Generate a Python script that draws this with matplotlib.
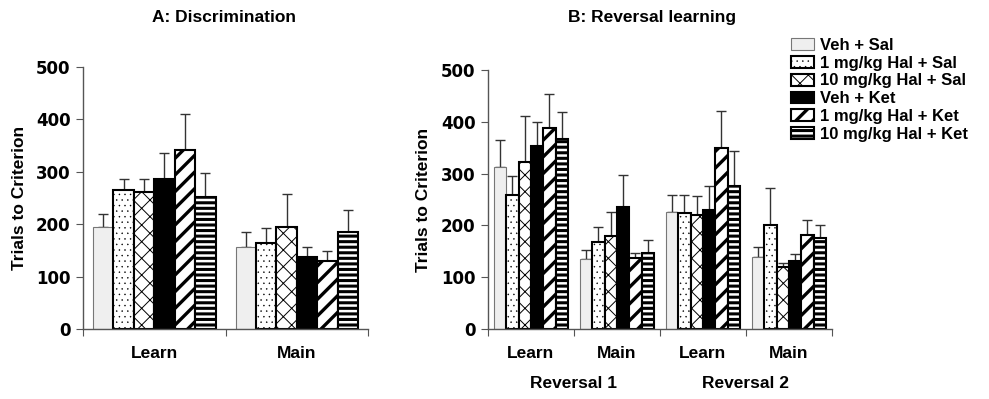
import matplotlib
matplotlib.use("Agg")
import matplotlib.pyplot as plt
import numpy as np

plt.rcParams['font.family'] = ['Liberation Sans', 'DejaVu Sans']
plt.rcParams['font.weight'] = 'bold'
plt.rcParams['font.size'] = 12.5

groups = ['Veh + Sal', '1 mg/kg Hal + Sal', '10 mg/kg Hal + Sal',
          'Veh + Ket', '1 mg/kg Hal + Ket', '10 mg/kg Hal + Ket']

# A: Discrimination
a_cats = ['Learn', 'Main']
a_mean = [[194, 156], [265, 165], [261, 194], [287, 137], [341, 130], [252, 185]]
a_top = [[219, 185], [286, 192], [287, 257], [336, 157], [411, 149], [298, 227]]

# B: Reversal learning
b_cats = ['Learn', 'Main', 'Learn', 'Main']
b_blocks = ['Reversal 1', 'Reversal 2']
b_mean = [[312, 135, 226, 139], [258, 168, 224, 201], [322, 180, 221, 120],
          [353, 236, 230, 132], [388, 138, 350, 181], [367, 147, 277, 176]]
b_top = [[364, 152, 259, 158], [296, 197, 259, 273], [411, 226, 256, 128],
         [400, 298, 276, 145], [453, 146, 421, 210], [419, 171, 344, 200]]

styles = [
    dict(color='#efefef', edgecolor='#777777', linewidth=0.8, hatch=None, hlw=1),
    dict(color='white', edgecolor='black', linewidth=1.5, hatch='...', hlw=0.3),
    dict(color='white', edgecolor='black', linewidth=1.5, hatch='xx', hlw=0.7),
    dict(color='black', edgecolor='black', linewidth=1.5, hatch=None, hlw=1),
    dict(color='white', edgecolor='black', linewidth=1.5, hatch='//', hlw=2.4),
    dict(color='white', edgecolor='black', linewidth=1.5, hatch='---', hlw=2.2),
]


def draw(ax, cats, means, tops, ylab_x):
    n = len(groups)
    x = np.arange(len(cats))
    w = 0.86 / n
    handles = []
    for i in range(n):
        st = styles[i]
        pos = x - 0.43 + w * (i + 0.5)
        bars = ax.bar(pos, means[i], w, color=st['color'], edgecolor=st['edgecolor'],
                      linewidth=st['linewidth'], hatch=st['hatch'], label=groups[i], zorder=2)
        for p in bars:
            if hasattr(p, 'set_hatch_linewidth'):
                p.set_hatch_linewidth(st['hlw'])
        up = np.array(tops[i]) - np.array(means[i])
        ax.errorbar(pos, means[i], yerr=[np.zeros(len(cats)), up], fmt='none',
                    ecolor='#333333', elinewidth=1, capsize=3.6, capthick=1, zorder=1)
        handles.append(bars)
    ax.set_xlim(-0.5, len(cats) - 0.5)
    ax.set_ylim(0, 500)
    ax.set_yticks([0, 100, 200, 300, 400, 500])
    ax.set_yticklabels(['0', '100', '200', '300', '400', '500'],
                       family='DejaVu Sans', fontweight='bold', fontsize=12)
    ax.set_xticks(np.arange(len(cats) + 1) - 0.5)
    ax.set_xticklabels([])
    ax.set_xticks(x, minor=True)
    ax.set_xticklabels(cats, minor=True, fontsize=12.5)
    ax.tick_params(axis='x', which='minor', length=0, pad=12)
    ax.tick_params(axis='x', which='major', length=5, color='#555555')
    ax.tick_params(axis='y', length=5, color='#555555', pad=4)
    for s in ['top', 'right']:
        ax.spines[s].set_visible(False)
    for s in ['left', 'bottom']:
        ax.spines[s].set_color('#555555')
        ax.spines[s].set_linewidth(1)
    ax.set_ylabel('Trials to Criterion', fontsize=12.5, fontweight='bold')
    ax.yaxis.set_label_coords(ylab_x, 0.5)
    return handles


fig = plt.figure(figsize=(9.89, 3.99), dpi=100)
ax1 = fig.add_axes([0.0839, 0.1754, 0.2883, 0.6566])
ax2 = fig.add_axes([0.4934, 0.1754, 0.3478, 0.6491])

draw(ax1, a_cats, a_mean, a_top, -0.196)
handles = draw(ax2, b_cats, b_mean, b_top, -0.166)

fig.text(0.226, 0.957, 'A: Discrimination', ha='center', va='center', fontsize=12.5)
fig.text(0.659, 0.957, 'B: Reversal learning', ha='center', va='center', fontsize=12.5)

for j, name in enumerate(b_blocks):
    ax2.text(2 * j + 0.5, -0.21, name, transform=ax2.get_xaxis_transform(),
             ha='center', va='center', fontsize=12.5)

leg = fig.legend(handles, groups, loc='upper left', bbox_to_anchor=(0.793, 0.922),
                 frameon=False, fontsize=12, handlelength=1.38, handleheight=0.72,
                 handletextpad=0.35, labelspacing=0.17, borderaxespad=0)
for h, st in zip(leg.legend_handles, styles):
    if hasattr(h, 'set_hatch_linewidth'):
        h.set_hatch_linewidth(st['hlw'])

fig.savefig('out.png', dpi=100)
